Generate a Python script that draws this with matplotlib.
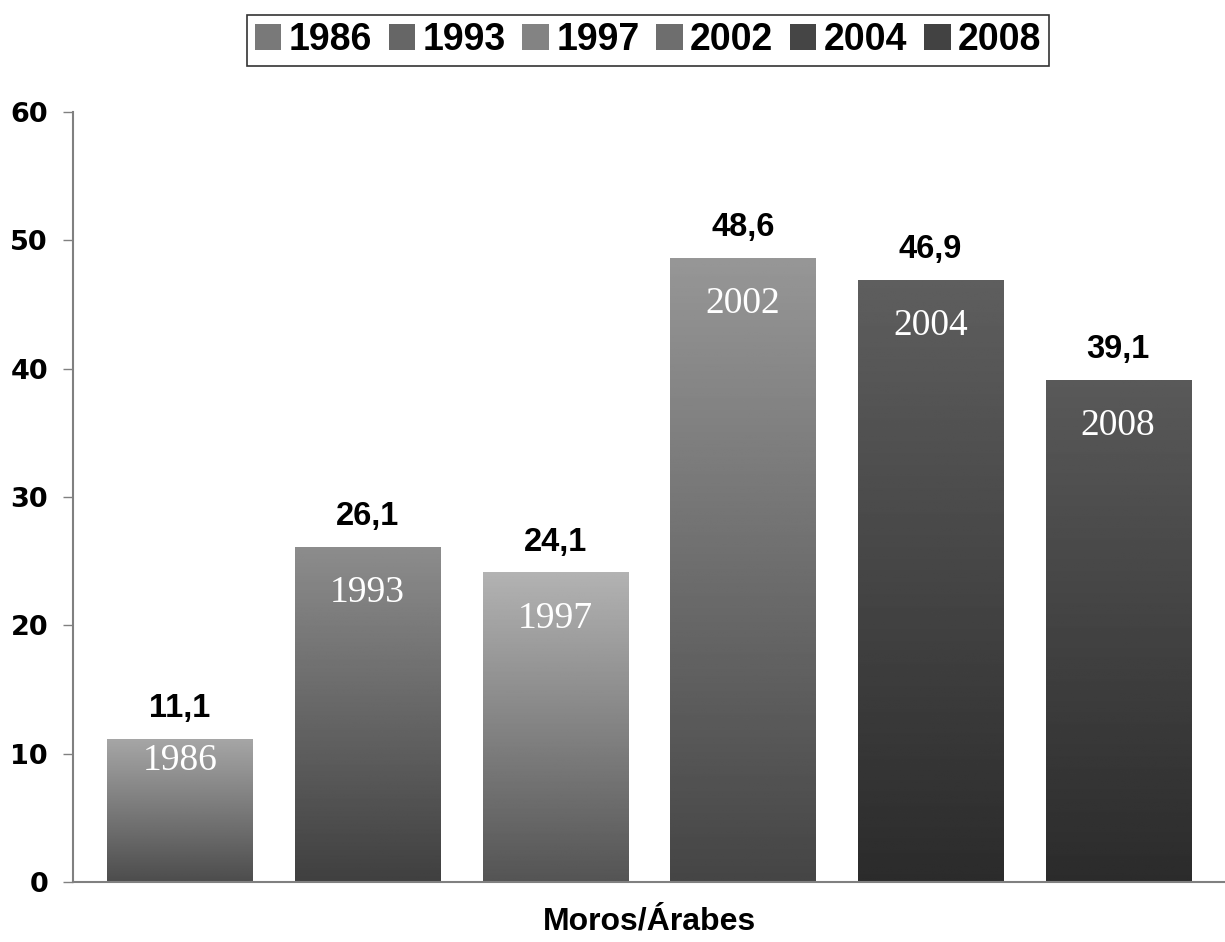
import numpy as np
import matplotlib
matplotlib.use("Agg")
import matplotlib.pyplot as plt
from matplotlib.patches import Patch

## Data
years = ["1986", "1993", "1997", "2002", "2004", "2008"]
values = [11.1, 26.1, 24.1, 48.6, 46.9, 39.1]
value_labels = ["11,1", "26,1", "24,1", "48,6", "46,9", "39,1"]
category = "Moros/Árabes"

# gradient colours per bar (top grey, bottom grey)
top_grey = [0.65, 0.55, 0.70, 0.59, 0.37, 0.35]
bottom_grey = [0.30, 0.25, 0.33, 0.27, 0.17, 0.17]

fig = plt.figure(figsize=(12.25, 9.42), dpi=100)
ax = fig.add_axes([0.0596, 0.0637, 0.9404, 0.8174])

x = np.arange(len(years))
width = 0.773

for i in range(len(years)):
    h = values[i]
    grad = np.linspace(top_grey[i], bottom_grey[i], 256).reshape(-1, 1)
    ax.imshow(grad, cmap="gray", vmin=0, vmax=1, aspect="auto",
              extent=[x[i] - width / 2, x[i] + width / 2, 0, h], zorder=2)
    # value above bar
    ax.annotate(value_labels[i], (x[i], h), xytext=(0, 22), textcoords="offset points",
                ha="center", va="center", fontsize=23.5, fontweight="bold",
                family="Liberation Sans")
    # year inside bar
    off = -15 if i == 0 else -33
    ax.annotate(years[i], (x[i], h), xytext=(0, off), textcoords="offset points",
                ha="center", va="center", fontsize=27, color="white",
                family="Liberation Serif")

ax.set_xlim(-0.57, 5.57)
ax.set_ylim(0, 60)

ax.set_yticks(np.arange(0, 61, 10))
ax.set_xticks([])
for lab in ax.get_yticklabels():
    lab.set_fontweight("bold")
    lab.set_family("DejaVu Sans")
ax.tick_params(axis="y", labelsize=19.5, length=7, width=1, color="#808080", pad=11)
ax.spines["top"].set_visible(False)
ax.spines["right"].set_visible(False)
ax.spines["left"].set_color("#808080")
ax.spines["bottom"].set_color("#808080")
ax.spines["left"].set_linewidth(1.5)
ax.spines["bottom"].set_linewidth(1.5)

ax.set_xlabel(category, fontsize=23, fontweight="bold",
              family="Liberation Sans", labelpad=18)

## Legend
handles = [Patch(facecolor=str((top_grey[i] + bottom_grey[i]) / 2), edgecolor="none")
           for i in range(len(years))]
leg = fig.legend(handles, years, loc="center", bbox_to_anchor=(0.529, 0.9575), ncol=6,
                 frameon=True, fancybox=False, handlelength=0.7, handleheight=0.7,
                 handletextpad=0.2, columnspacing=0.45, borderpad=0.2,
                 prop={"family": "Liberation Sans", "weight": "bold", "size": 27})
leg.get_frame().set_edgecolor("black")
leg.get_frame().set_linewidth(1.2)

fig.savefig("out.png", dpi=100)
